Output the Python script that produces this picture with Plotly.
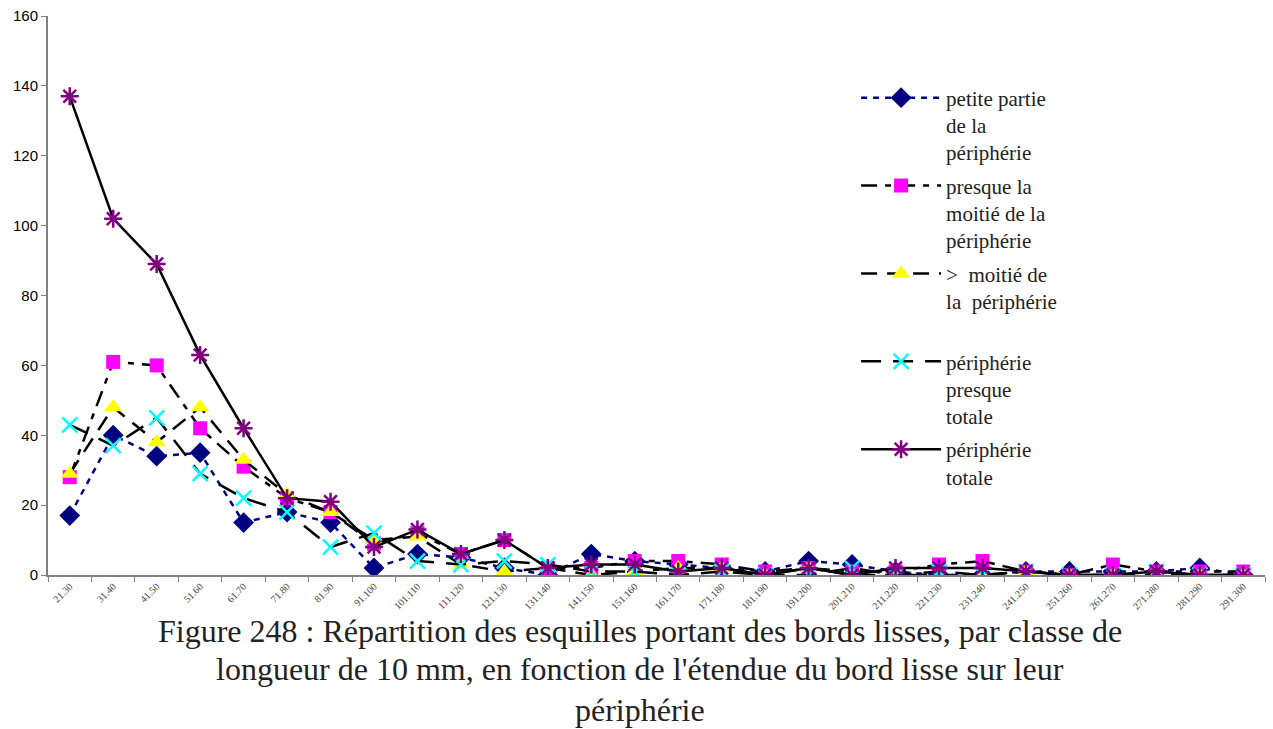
import plotly.graph_objects as go

categories = ["21.30", "31.40", "41.50", "51.60", "61.70", "71.80", "81.90", "91.100",
              "101.110", "111.120", "121.130", "131.140", "141.150", "151.160", "161.170",
              "171.180", "181.190", "191.200", "201.210", "211.220", "221.230", "231.240",
              "241.250", "251.260", "261.270", "271.280", "281.290", "291.300"]

petite_partie = [17, 40, 34, 35, 15, 18, 15, 2, 6, 5, 2, 0, 6, 4, 3, 2, 1, 4, 3, 1, 0, 0, 1, 1, 1, 1, 2, 0]
presque_moitie = [28, 61, 60, 42, 31, 22, 18, 9, 12, 6, 10, 2, 2, 4, 4, 3, 1, 2, 1, 1, 3, 4, 1, 0, 3, 1, 1, 1]
plus_moitie = [29, 48, 38, 48, 33, 23, 18, 10, 11, 3, 1, 2, 0, 1, 2, 2, 0, 2, 0, 0, 0, 0, 1, 0, 0, 0, 0, 0]
presque_totale = [43, 37, 45, 29, 22, 18, 8, 12, 4, 3, 4, 3, 1, 1, 0, 1, 0, 0, 2, 0, 1, 0, 1, 0, 0, 1, 0, 0]
totale = [137, 102, 89, 63, 42, 22, 21, 8, 13, 6, 10, 2, 3, 3, 1, 2, 0, 2, 0, 2, 2, 2, 1, 0, 0, 1, 0, 0]

names = [
    "petite partie<br>de la<br>périphérie",
    "presque la<br>moitié de la<br>périphérie",
    ">\u00a0\u00a0moitié de<br>la\u00a0\u00a0périphérie<br>\u00a0",
    "périphérie<br>presque<br>totale",
    "périphérie<br>totale",
]
caption_lines = [
    "Figure 248 : Répartition des esquilles portant des bords lisses, par classe de",
    "longueur de 10 mm, en fonction de l'étendue du bord lisse sur leur",
    "périphérie",
]

series = [petite_partie, presque_moitie, plus_moitie, presque_totale, totale]
line_colors = ["#000080", "#000000", "#000000", "#000000", "#000000"]
dashes = ["6px,6px", "16px,8px,6px,8px", "16px,10px", "20px,12px", "solid"]
markers = [
    dict(symbol="diamond", size=16, color="#000080", line=dict(width=0)),
    dict(symbol="square", size=14, color="#FF00FF", line=dict(width=0)),
    dict(symbol="triangle-up", size=16, color="#FFFF00", line=dict(width=0)),
    dict(symbol="x-thin-open", size=15, color="#00FFFF", line=dict(width=2.5, color="#00FFFF")),
    dict(symbol="asterisk-open", size=15, color="#800080", line=dict(width=2.5, color="#800080")),
]

fig = go.Figure()
for i, (nm, vals) in enumerate(zip(names, series)):
    fig.add_trace(go.Scatter(
        x=categories, y=vals, name=nm, mode="lines+markers",
        line=dict(color=line_colors[i], width=2.5, dash=dashes[i]),
        marker=markers[i], legendgroup="g%d" % i,
    ))

caption_y_px = [631, 669, 710]
annotations = []
for txt, ypx in zip(caption_lines, caption_y_px):
    annotations.append(dict(
        xref="paper", yref="paper", x=(640 - 48) / 1217, y=(575 - ypx) / 559,
        xanchor="center", yanchor="middle", text=txt, showarrow=False,
        font=dict(family="Liberation Serif", size=32, color="#222222"),
    ))

fig.update_layout(
    width=1273, height=729,
    margin=dict(l=48, r=8, t=16, b=154),
    paper_bgcolor="white", plot_bgcolor="white",
    showlegend=True,
    legend=dict(
        x=0.664, y=0.890, xanchor="left", yanchor="top",
        font=dict(family="Liberation Serif", size=21, color="#222222"),
        itemwidth=80, valign="top", tracegroupgap=3,
        bgcolor="rgba(0,0,0,0)",
    ),
    xaxis=dict(
        type="category", range=[-0.5, 27.5], tickangle=-45, tickson="boundaries",
        ticks="outside", ticklen=5, tickcolor="#808080",
        showline=True, linecolor="#808080", linewidth=1.5,
        showgrid=False, zeroline=False,
        tickfont=dict(family="Liberation Serif", size=10, color="#444444"),
    ),
    yaxis=dict(
        range=[0, 160], dtick=20, ticks="outside", ticklen=5, tickcolor="#808080",
        showline=True, linecolor="#808080", linewidth=2,
        showgrid=False, zeroline=False,
        tickfont=dict(family="Liberation Sans", size=15, color="#000000"),
    ),
    annotations=annotations,
)

fig.write_html("out.html", config={"displayModeBar": False},
               post_script="document.body.style.margin='0';")
